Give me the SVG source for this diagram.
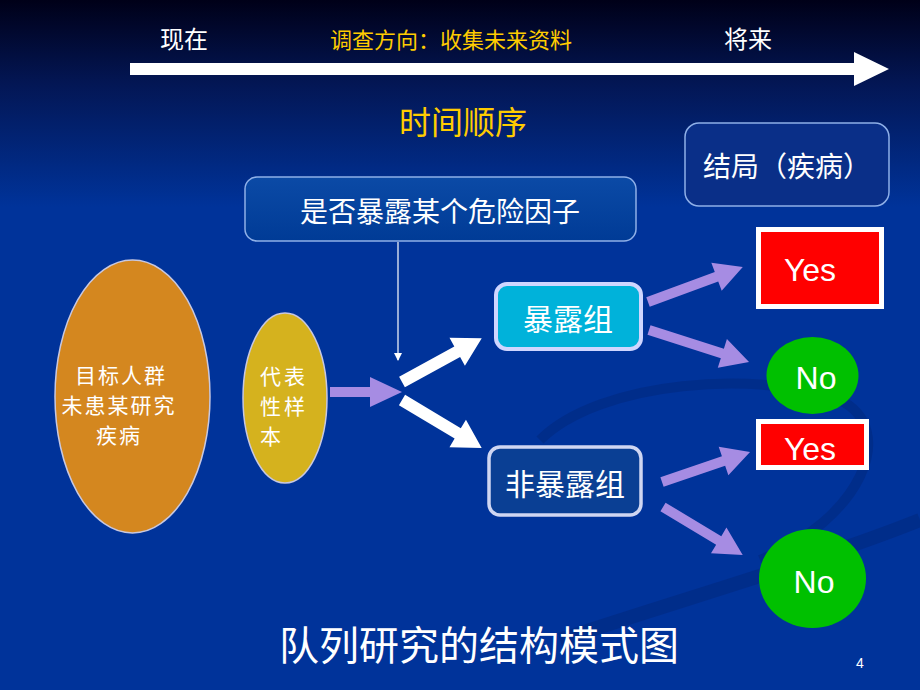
<svg xmlns="http://www.w3.org/2000/svg" width="920" height="690" viewBox="0 0 920 690">
<defs>
<linearGradient id="bg" x1="0" y1="0" x2="0" y2="1">
<stop offset="0" stop-color="#000018"/>
<stop offset="0.12" stop-color="#031654"/>
<stop offset="0.3" stop-color="#00339a"/>
<stop offset="1" stop-color="#00339a"/>
</linearGradient>
<linearGradient id="qbox" x1="0" y1="0" x2="0" y2="1">
<stop offset="0" stop-color="#0b4aa6"/>
<stop offset="1" stop-color="#003b96"/>
</linearGradient>
<marker id="thin" markerWidth="8" markerHeight="8" refX="7" refY="4" orient="auto" markerUnits="userSpaceOnUse">
<path d="M0,0 L8,4 L0,8 Z" fill="#ffffff"/>
</marker>
<style>
.cn{font-family:"Noto Sans CJK SC","Noto Sans CJK TC",sans-serif;fill:#ffffff;}
.en{font-family:"Liberation Sans",Arial,sans-serif;fill:#ffffff;}
.yel{fill:#ffcc00;}
.purple{fill:#a68ce3;}
.white{fill:#ffffff;}
</style>
</defs>
<rect width="920" height="690" fill="url(#bg)"/>
<g id="swirl" fill="none" stroke="#00226e" stroke-opacity="0.35">
<path d="M540,440 C600,380 760,370 840,400 C900,430 860,520 760,560" stroke-width="10"/>
<path d="M560,640 C680,600 820,560 920,520" stroke-width="14"/>
</g>
<g id="timeline">
<polygon class="white" points="130,63 854,63 854,52 889,69 854,86 854,75 130,75"/>
<text class="cn" x="184" y="48" font-size="24" text-anchor="middle">现在</text>
<text class="cn yel" x="451" y="48" font-size="22" text-anchor="middle">调查方向：收集未来资料</text>
<text class="cn" x="748" y="48" font-size="24" text-anchor="middle">将来</text>
<text class="cn yel" x="463" y="134" font-size="32" text-anchor="middle">时间顺序</text>
</g>
<g id="outcome">
<rect x="685" y="123" width="204" height="83" rx="14" fill="#0a2f88" stroke="#8fb0e8" stroke-width="1.5"/>
<text class="cn" x="787" y="177" font-size="28" text-anchor="middle">结局（疾病）</text>
</g>
<g id="question">
<rect x="245" y="177" width="391" height="64" rx="12" fill="url(#qbox)" stroke="#8fb0e8" stroke-width="1.5"/>
<text class="cn" x="440" y="222" font-size="28" text-anchor="middle">是否暴露某个危险因子</text>
</g>
<g id="population">
<ellipse cx="132.5" cy="396.5" rx="77.5" ry="136.5" fill="#d4871f" stroke="#c8c8e0" stroke-width="1.5"/>
<text class="cn" font-size="21" letter-spacing="2" text-anchor="middle"><tspan x="121" y="383">目标人群</tspan><tspan x="119" y="413">未患某研究</tspan><tspan x="119" y="443">疾病</tspan></text>
</g>
<g id="sample">
<ellipse cx="285" cy="398" rx="42" ry="85" fill="#d5b21e" stroke="#c8c8e0" stroke-width="1.5"/>
<text class="cn" font-size="21" letter-spacing="3" text-anchor="start"><tspan x="260" y="384">代表</tspan><tspan x="260" y="414">性样</tspan><tspan x="260" y="444">本</tspan></text>
</g>
<g id="exposed">
<rect x="496" y="284" width="145" height="65" rx="11" fill="#00b2da" stroke="#cfd6ff" stroke-width="4"/>
<text class="cn" x="568" y="330" font-size="30" text-anchor="middle">暴露组</text>
</g>
<g id="unexposed">
<rect x="489" y="447" width="152" height="68" rx="11" fill="#0a3f94" stroke="#cfd6f2" stroke-width="3.5"/>
<text class="cn" x="565" y="495" font-size="30" text-anchor="middle">非暴露组</text>
</g>
<g id="yes1">
<rect x="758.5" y="229.5" width="123" height="77" fill="#ff0000" stroke="#ffffff" stroke-width="5"/>
<text class="en" x="810" y="281" font-size="32" text-anchor="middle">Yes</text>
</g>
<g id="no1">
<ellipse cx="812.5" cy="375.5" rx="46" ry="38.5" fill="#00c000"/>
<text class="en" x="816" y="389" font-size="32" text-anchor="middle">No</text>
</g>
<g id="yes2">
<rect x="758.5" y="421.5" width="108" height="46" fill="#ff0000" stroke="#ffffff" stroke-width="5"/>
<text class="en" x="810" y="460" font-size="32" text-anchor="middle">Yes</text>
</g>
<g id="no2">
<ellipse cx="812.5" cy="578.5" rx="53.5" ry="49.5" fill="#00c000"/>
<text class="en" x="814" y="593" font-size="32" text-anchor="middle">No</text>
</g>
<g id="connectors">
<line x1="398" y1="242" x2="398" y2="360" stroke="#ffffff" stroke-width="1.2" marker-end="url(#thin)"/>
<polygon class="purple" transform="translate(330,392)" points="0,-5 40,-5 40,-15 72,0 40,15 40,5 0,5"/>
<polygon class="white" transform="translate(402,382) rotate(-28.8)" points="0,-6 63,-6 63,-16 91,0 63,16 63,6 0,6"/>
<polygon class="white" transform="translate(402,400) rotate(31)" points="0,-6 65,-6 65,-16 93,0 65,16 65,6 0,6"/>
<polygon class="purple" transform="translate(648,302) rotate(-20.2)" points="0,-5 73,-5 73,-15 101,0 73,15 73,5 0,5"/>
<polygon class="purple" transform="translate(649,330) rotate(17.7)" points="0,-5 77,-5 77,-15 105,0 77,15 77,5 0,5"/>
<polygon class="purple" transform="translate(662,482) rotate(-18.8)" points="0,-5 65,-5 65,-15 93,0 65,15 65,5 0,5"/>
<polygon class="purple" transform="translate(663,507) rotate(31)" points="0,-5 65,-5 65,-15 93,0 65,15 65,5 0,5"/>
</g>
<g id="caption">
<text class="cn" x="479" y="660" font-size="40" text-anchor="middle">队列研究的结构模式图</text>
<text class="en" x="860" y="668" font-size="14" text-anchor="middle">4</text>
</g>
</svg>
